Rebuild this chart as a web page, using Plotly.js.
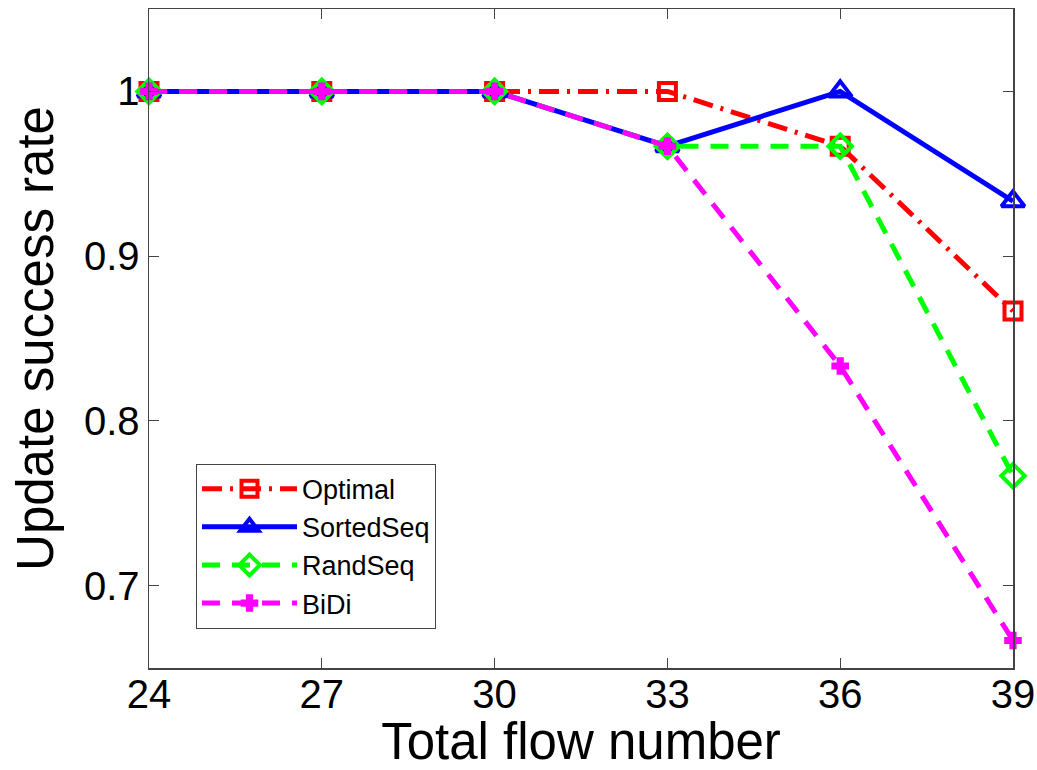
<!DOCTYPE html>
<html>
<head>
<meta charset="utf-8">
<script src="https://cdn.plot.ly/plotly-3.0.1.min.js"></script>
<style>html,body{margin:0;padding:0;background:#fff;}#chart{width:1037px;height:770px;}</style>
</head>
<body>
<div id="chart"></div>
<script>
var flows = [24, 27, 30, 33, 36, 39];
var optimal = [1, 1, 1, 1, 0.9667, 0.8667];
var sortedSeq = [1, 1, 1, 0.9667, 1, 0.9333];
var randSeq = [1, 1, 1, 0.9667, 0.9667, 0.7667];
var biDi = [1, 1, 1, 0.9667, 0.8333, 0.6667];
var seriesNames = ['Optimal', 'SortedSeq', 'RandSeq', 'BiDi'];
var yTickVals = [0.7, 0.8, 0.9, 1];
var yTickText = ['0.7', '0.8', '0.9', '1'];

var traces = [
  {x: flows, y: optimal, name: seriesNames[0], mode: 'lines+markers', cliponaxis: false,
   line: {color: '#FF0000', width: 5, dash: '20px,8px,3px,8px'},
   marker: {symbol: 'square-open', size: 17, color: '#FF0000', line: {width: 4, color: '#FF0000'}}},
  {x: flows, y: sortedSeq, name: seriesNames[1], mode: 'lines+markers', cliponaxis: false,
   line: {color: '#0000FF', width: 5},
   marker: {symbol: 'triangle-up-open', size: 20, color: '#0000FF', line: {width: 4, color: '#0000FF'}}},
  {x: flows, y: randSeq, name: seriesNames[2], mode: 'lines+markers', cliponaxis: false,
   line: {color: '#00FF00', width: 5, dash: '18px,12px'},
   marker: {symbol: 'diamond-open', size: 18, color: '#00FF00', line: {width: 4, color: '#00FF00'}}},
  {x: flows, y: biDi, name: seriesNames[3], mode: 'lines+markers', cliponaxis: false,
   line: {color: '#FF00FF', width: 5, dash: '18px,12px'},
   marker: {symbol: 'cross', size: 13, color: '#FF00FF', line: {width: 2, color: '#FF00FF'}}}
];

var axisFont = {family: 'Liberation Sans, Arial, sans-serif', size: 40, color: '#000'};
var titleFont = {family: 'Liberation Sans, Arial, sans-serif', size: 51, color: '#000'};

var layout = {
  width: 1037, height: 770,
  margin: {l: 149, r: 24, t: 9, b: 102},
  paper_bgcolor: '#fff', plot_bgcolor: '#fff',
  showlegend: true,
  legend: {
    x: 0.0544, y: 0.31, xanchor: 'left', yanchor: 'top',
    bgcolor: '#fff', bordercolor: '#444', borderwidth: 1,
    font: {family: 'Liberation Sans, Arial, sans-serif', size: 27, color: '#000'},
    itemwidth: 95, tracegroupgap: 0
  },
  xaxis: {
    range: [24, 39], tickvals: flows, ticktext: flows.map(String),
    ticks: 'inside', ticklen: 10, tickcolor: '#444', tickwidth: 1,
    showline: true, linecolor: '#444', linewidth: 1.5, mirror: 'ticks',
    showgrid: false, zeroline: false, tickfont: axisFont, ticklabelstandoff: -10,
    title: {text: 'Total flow number', font: titleFont, standoff: 0}
  },
  yaxis: {
    range: [0.65, 1.05], tickvals: yTickVals, ticktext: yTickText,
    ticks: 'inside', ticklen: 10, tickcolor: '#444', tickwidth: 1,
    showline: true, linecolor: '#444', linewidth: 1.5, mirror: 'ticks',
    showgrid: false, zeroline: false, tickfont: axisFont,
    title: {text: 'Update success rate', font: titleFont, standoff: 14}
  }
};

Plotly.newPlot('chart', traces, layout, {displayModeBar: false, staticPlot: true});
</script>
</body>
</html>
